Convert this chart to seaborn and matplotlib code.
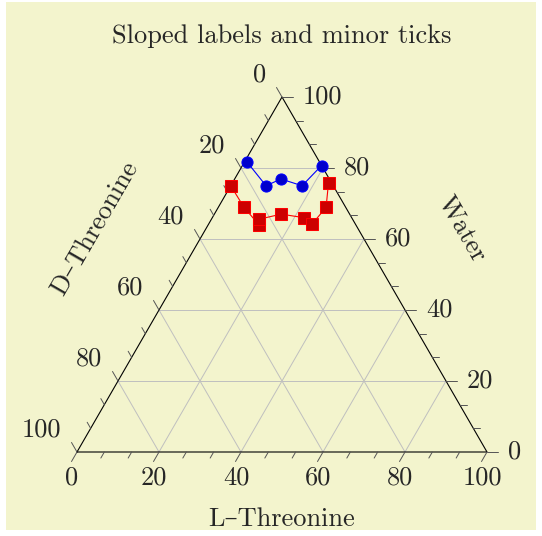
import numpy as np
import pandas as pd
import seaborn as sns
import matplotlib.pyplot as plt
from matplotlib.patches import Rectangle

# ternary compositions in percent (L-Threonine, D-Threonine, Water)
blue_l = [0.5, 8.6, 11.3, 17.4, 19.3]
blue_d = [17.7, 16.4, 11.8, 7.6, 0.0]
blue_w = [81.8, 75.0, 76.9, 75.0, 80.7]

red_l = [0.0, 6.3, 12.5, 11.7, 16.3, 22.4, 25.2, 26.3, 23.4]
red_d = [25.0, 24.8, 23.6, 22.7, 16.7, 11.6, 10.7, 4.8, 0.7]
red_w = [75.0, 68.9, 63.9, 65.6, 67.0, 66.0, 64.1, 68.9, 75.9]

major_ticks = [0, 20, 40, 60, 80, 100]
title = "Sloped labels and minor ticks"
xlabel = "L\u2013Threonine"
ylabel = "D\u2013Threonine"
zlabel = "Water"

H = np.sqrt(3) / 2
PX = 1 / 410  # one pixel in data units
BG = "#F3F4CD"


def to_xy(l, d, w):
    l, d, w = np.asarray(l, float), np.asarray(d, float), np.asarray(w, float)
    s = l + d + w
    return (l + w / 2) / s, w / s * H


sns.set_style("white")
plt.rcParams["font.family"] = ["cmr10", "DejaVu Serif"]
plt.rcParams["font.size"] = 19

fig = plt.figure(figsize=(5.42, 5.36), dpi=100)
fig.patch.set_facecolor("white")
fig.patches.append(Rectangle((6 / 542, 6 / 536), 530 / 542, 528 / 536,
                             transform=fig.transFigure, facecolor=BG,
                             edgecolor="none", zorder=-10))

ax = fig.add_axes([77 / 542, 84 / 536, 410 / 542, 355 / 536])
ax.set_xlim(0, 1)
ax.set_ylim(0, H)
ax.axis("off")
ax.patch.set_alpha(0)

# grid
for v in major_ticks[1:-1]:
    for a, b in [((100 - v, 0, v), (0, 100 - v, v)),
                 ((v, 100 - v, 0), (v, 0, 100 - v)),
                 ((0, v, 100 - v), (100 - v, v, 0))]:
        x, y = to_xy(*zip(a, b))
        ax.plot(x, y, color="#BFBFBF", lw=0.7, zorder=1)

# triangle border
x, y = to_xy([0, 100, 0, 0], [100, 0, 0, 100], [0, 0, 100, 0])
ax.plot(x, y, color="black", lw=0.8, zorder=2, clip_on=False)

# ticks
axes_def = [
    (lambda t: (t, 100 - t, 0), (-0.5, -H)),   # L along bottom
    (lambda t: (0, t, 100 - t), (-0.5, H)),    # D along left
    (lambda t: (100 - t, 0, t), (1.0, 0.0)),   # Water along right
]
for pos, (dx, dy) in axes_def:
    for t in np.linspace(0, 100, 16):
        major = np.isclose(t % 20, 0) or np.isclose(t % 20, 20)
        ln = (11 if major else 7) * PX
        x0, y0 = to_xy(*pos(t))
        ax.plot([x0, x0 + dx * ln], [y0, y0 + dy * ln], color="#555555",
                lw=0.7, zorder=2, clip_on=False)

for t in major_ticks:
    x0, y0 = to_xy(*axes_def[0][0](t))
    ax.text(x0 - 5 * PX, y0 - 26 * PX, str(t), ha="center", va="center")
    x0, y0 = to_xy(*axes_def[1][0](t))
    ax.text(x0 - 16 * PX, y0 + 22 * PX, str(t), ha="right", va="center")
    x0, y0 = to_xy(*axes_def[2][0](t))
    ax.text(x0 + 21 * PX, y0, str(t), ha="left", va="center")

# data series
bx, by = to_xy(blue_l, blue_d, blue_w)
rx, ry = to_xy(red_l, red_d, red_w)
blue = pd.DataFrame({"x": bx, "y": by})
red = pd.DataFrame({"x": rx, "y": ry})
sns.lineplot(data=blue, x="x", y="y", sort=False, estimator=None, ax=ax,
             color="#0000FF", lw=0.8, marker="o", markersize=8,
             markerfacecolor="#0000CC", markeredgecolor="#0000FF",
             zorder=3, clip_on=False)
sns.lineplot(data=red, x="x", y="y", sort=False, estimator=None, ax=ax,
             color="#FF0000", lw=0.8, marker="s", markersize=8.5,
             markerfacecolor="#CC0000", markeredgecolor="#FF0000",
             zorder=3, clip_on=False)
ax.set_xlim(0, 1)
ax.set_ylim(0, H)

# labels
ax.text(0.5, -67 * PX, xlabel, ha="center", va="center")
ax.text(18 * PX, 224 * PX, ylabel, ha="center", va="center", rotation=60)
ax.text(385 * PX, 223 * PX, zlabel, ha="center", va="center", rotation=-60)
ax.text(0.5, 416 * PX, title, ha="center", va="center")

fig.savefig("out.png", dpi=100, facecolor=fig.get_facecolor())
